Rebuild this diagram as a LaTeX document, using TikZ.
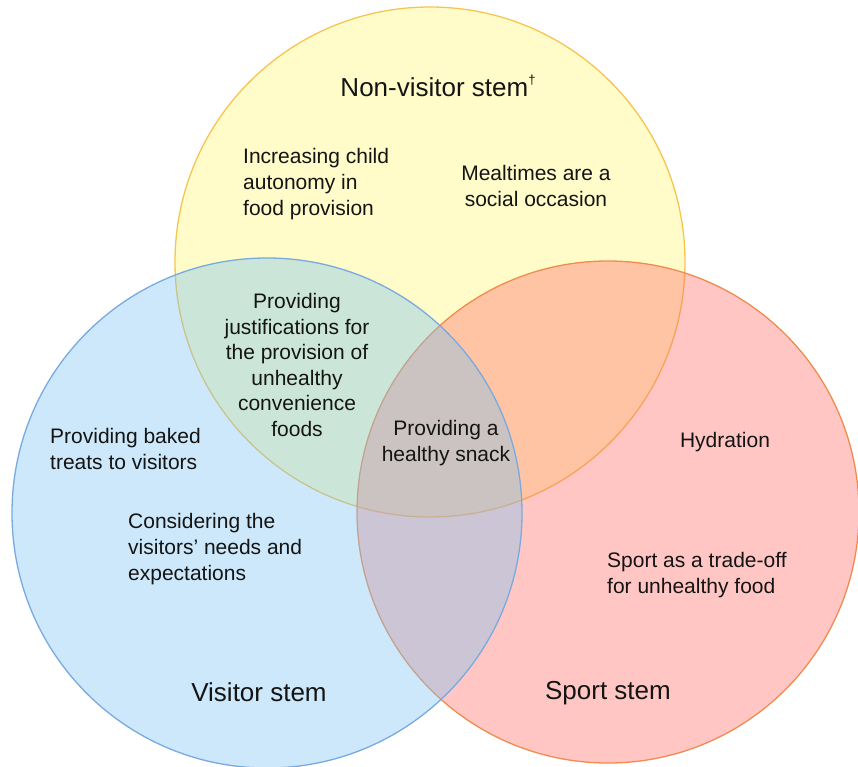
\documentclass[tikz,border=0pt]{standalone}
\usepackage{fontspec}
\setmainfont{Liberation Sans}
\definecolor{ylwfill}{RGB}{255,248,120}
\definecolor{ylwline}{RGB}{247,196,80}
\definecolor{redfill}{RGB}{255,112,107}
\definecolor{redline}{RGB}{240,140,80}
\definecolor{bluefill}{RGB}{127,197,242}
\definecolor{blueline}{RGB}{120,170,225}
\definecolor{ink}{RGB}{20,20,20}
\begin{document}
\begin{tikzpicture}[x=1pt,y=-1pt,
  venn/.style={circle,inner sep=0pt,minimum size=510pt,line width=1.3pt,fill opacity=0.4},
  small/.style={text=ink,inner sep=0pt,font=\fontsize{21}{25.6}\selectfont},
  big/.style={text=ink,inner sep=0pt,font=\fontsize{26}{30}\selectfont}]
\useasboundingbox (0,0) rectangle (858,767);
% the three sets, blue drawn last so it lies over the others
\node[venn,fill=ylwfill,draw=ylwline] (nonvisitor) at (430,262) {};
\node[venn,fill=redfill,draw=redline,minimum size=502pt] (sport) at (608,512) {};
\node[venn,fill=bluefill,draw=blueline] (visitor) at (267,513) {};
% set titles
\node[big] (tnv) at (438,86) {Non-visitor stem\raisebox{12pt}{\fontsize{13}{13}\selectfont\char"2020}};
\node[big] (tv) at (259,692) {Visitor stem};
\node[big] (ts) at (608,693) {Sport stem};
% themes
\node[small,align=left,anchor=west] (autonomy) at (243,184) {Increasing child\\autonomy in\\food provision};
\node[small,align=center] (meal) at (536,186) {Mealtimes are a\\social occasion};
\node[small,align=center] (justify) at (297,365) {Providing\\justifications for\\the provision of\\unhealthy\\convenience\\foods};
\node[small,align=center] (snack) at (446,443) {Providing a\\healthy snack};
\node[small,align=left,anchor=west] (baked) at (50,449) {Providing baked\\treats to visitors};
\node[small,align=left,anchor=west] (needs) at (128,549) {Considering the\\visitors' needs and\\expectations};
\node[small] (hydr) at (725,442) {Hydration};
\node[small,align=left,anchor=west] (trade) at (607,575) {Sport as a trade-off\\for unhealthy food};
\end{tikzpicture}
\end{document}
